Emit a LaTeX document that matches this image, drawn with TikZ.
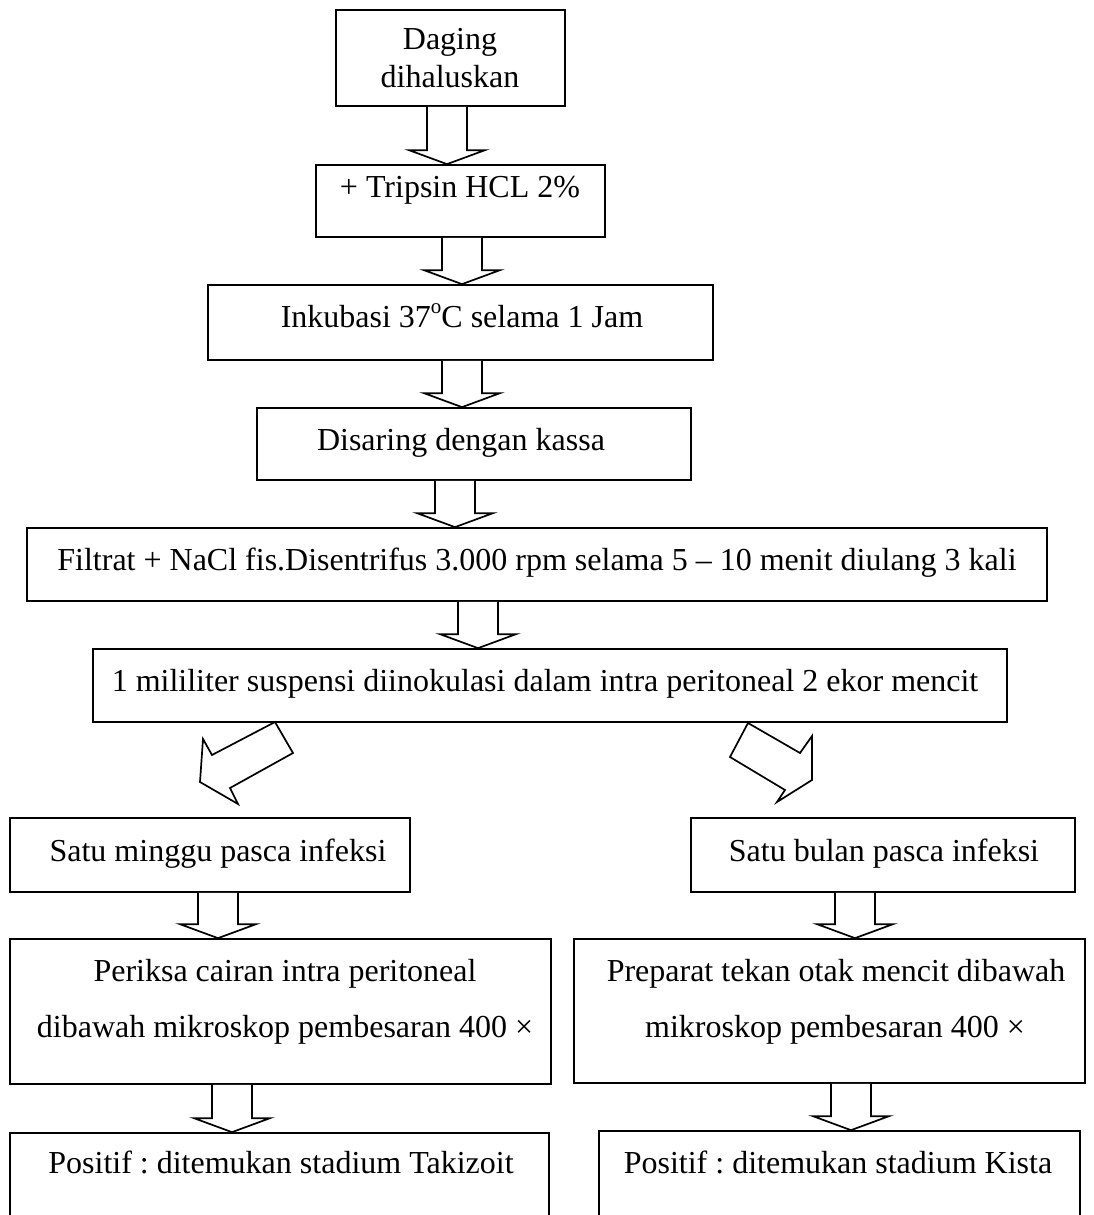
\documentclass[tikz,border=0pt]{standalone}
\usepackage{fontspec}
\setmainfont{Liberation Serif}
\usetikzlibrary{calc,fit}
\frenchspacing
\newcommand\vblockarrow[3]{%
  \coordinate (ax) at (#3,0);
  \draw[barrow] ($(#1.south -| ax)+(-20,0)$) -- ($(#2.north -| ax)+(-20,-14)$)
    -- ($(#2.north -| ax)+(-38,-14)$) -- (#2.north -| ax)
    -- ($(#2.north -| ax)+(38,-14)$) -- ($(#2.north -| ax)+(20,-14)$)
    -- ($(#1.south -| ax)+(20,0)$);}
\begin{document}
\begin{tikzpicture}[x=1pt,y=-1pt,
  box/.style={draw, line width=1.7pt, rectangle, inner sep=0pt},
  txt/.style={inner sep=0pt, font=\fontsize{32}{38}\selectfont},
  barrow/.style={draw, line width=1.7pt, fill=white, line join=miter}]
\clip (0,0) rectangle (1094,1215);
\fill[white] (0,0) rectangle (1094,1215);
% boxes
\node[box, fit={(336,10) (565,106)}] (b1) {};
\node[box, fit={(316,165) (605,237)}] (b2) {};
\node[box, fit={(208,285) (713,360)}] (b3) {};
\node[box, fit={(257,408) (691,480)}] (b4) {};
\node[box, fit={(27,528) (1047,601)}] (b5) {};
\node[box, fit={(93,649) (1007,722)}] (b6) {};
\node[box, fit={(10,818) (410,892)}] (b7) {};
\node[box, fit={(691,818) (1075,892)}] (b8) {};
\node[box, fit={(10,939) (551,1084)}] (b9) {};
\node[box, fit={(574,939) (1085,1083)}] (b10) {};
\node[box, fit={(10,1133) (549,1240)}] (b11) {};
\node[box, fit={(599,1131) (1080,1240)}] (b12) {};
% texts
\node[txt, anchor=base] (t1a) at (450,50) {Daging};
\node[txt, anchor=base] (t1b) at (450,87) {dihaluskan};
\node[txt, anchor=base] (t2) at (460,197) {+ Tripsin HCL 2\%};
\node[txt, anchor=base] (t3) at (462,327) {Inkubasi 37\raisebox{0.42em}{\fontsize{21}{21}\selectfont o}C selama 1 Jam};
\node[txt, anchor=base] (t4) at (461,450) {Disaring dengan kassa};
\node[txt, anchor=base] (t5) at (537,570) {Filtrat + NaCl fis.Disentrifus 3.000 rpm selama 5 -- 10 menit diulang 3 kali};
\node[txt, anchor=base] (t6) at (545,691) {1 mililiter suspensi diinokulasi dalam intra peritoneal 2 ekor mencit};
\node[txt, anchor=base] (t7) at (218,861) {Satu minggu pasca infeksi};
\node[txt, anchor=base] (t8) at (884,861) {Satu bulan pasca infeksi};
\node[txt, anchor=base] (t9a) at (285,981) {Periksa cairan intra peritoneal};
\node[txt, anchor=base] (t9b) at (285,1037) {dibawah mikroskop pembesaran 400 ×};
\node[txt, anchor=base] (t10a) at (836,981) {Preparat tekan otak mencit dibawah};
\node[txt, anchor=base] (t10b) at (835,1037) {mikroskop pembesaran 400 ×};
\node[txt, anchor=base] (t11) at (281,1173) {Positif : ditemukan stadium Takizoit};
\node[txt, anchor=base] (t12) at (838,1173) {Positif : ditemukan stadium Kista};
% vertical block arrows
\vblockarrow{b1}{b2}{447}
\vblockarrow{b2}{b3}{462}
\vblockarrow{b3}{b4}{462}
\vblockarrow{b4}{b5}{455}
\vblockarrow{b5}{b6}{478}
\vblockarrow{b7}{b9}{218}
\vblockarrow{b8}{b10}{855}
\vblockarrow{b9}{b11}{232}
\vblockarrow{b10}{b12}{851}
% diagonal block arrows
\draw[barrow] (275,722) -- (212,755) -- (203,739) -- (200,782) -- (238,804) -- (230,788) -- (293,753) -- cycle;
\draw[barrow] (748,723) -- (800,753) -- (812,736) -- (812,780) -- (777,802) -- (785,790) -- (730,757) -- cycle;
\end{tikzpicture}
\end{document}
